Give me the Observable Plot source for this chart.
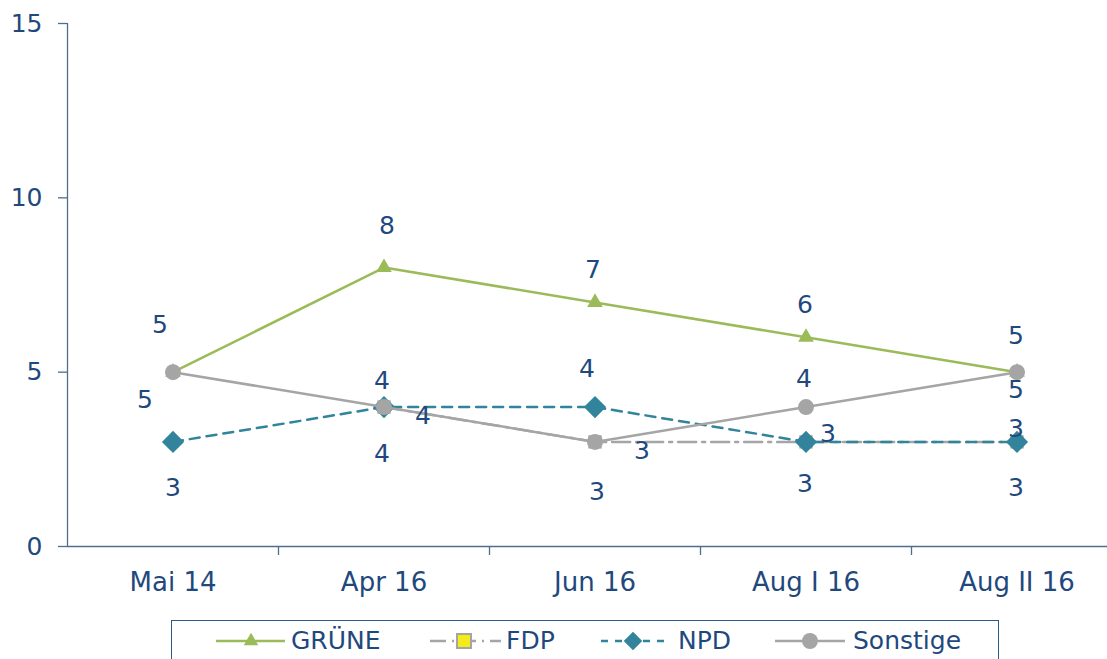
<!DOCTYPE html>
<html>
<head>
<meta charset="utf-8">
<script src="https://cdn.jsdelivr.net/npm/d3@7"></script>
<script src="https://cdn.jsdelivr.net/npm/@observablehq/plot@0.6"></script>
<style>
  html, body { margin: 0; padding: 0; background: #fff; overflow: hidden; }
  body { font-family: "DejaVu Sans", Verdana, sans-serif; position: relative; width: 1107px; height: 659px; }
  #chart { position: absolute; left: 0; top: 0; }
  #legend { position: absolute; left: 171px; top: 620px; width: 828px; height: 60px;
            border: 1.5px solid #2E5A87; box-sizing: border-box; }
  .lg { position: absolute; top: 0; height: 40px; }
  .lt { position: absolute; top: 4px; font-size: 25px; line-height: 32px; color: #1F497D; white-space: nowrap; }
</style>
</head>
<body>
<div id="chart"></div>
<div id="legend"></div>
<script>
// ---- data ----
const categories = ["Mai 14", "Apr 16", "Jun 16", "Aug I 16", "Aug II 16"];
const gruene   = [5, 8, 7, 6, 5];
const fdp      = [null, 4, 3, 3, 3];
const npd      = [3, 4, 4, 3, 3];
const sonstige = [5, 4, 3, 4, 5];
const yTicks = [0, 5, 10, 15];
const seriesNames = ["GRÜNE", "FDP", "NPD", "Sonstige"];

// ---- styling / layout ----
const textColor = "#1F497D";
const axisColor = "#4F6E8E";
const styles = {
  "GRÜNE":   {values: gruene,   color: "#9BBB59", dash: null,            symbol: "triangle2", r: 7.5, fill: "#9BBB59"},
  "FDP":     {values: fdp,      color: "#A5A5A5", dash: "18,6,3,6",      symbol: "square2",   r: 8.5, fill: "#A5A5A5"},
  "NPD":     {values: npd,      color: "#31849B", dash: "10,7",          symbol: "diamond2",  r: 10,  fill: "#31849B"},
  "Sonstige":{values: sonstige, color: "#A5A5A5", dash: null,            symbol: "circle",    r: 8,   fill: "#A5A5A5"}
};
const labelOffsets = {
  "GRÜNE":   [[-13,-47],[3,-42],[-2,-32],[-1,-32],[-1,-36]],
  "FDP":     [null,[39,9],[47,9],[22,-8],[-1,-13]],
  "NPD":     [[0,46],[-2,47],[-8,-38],[-1,42],[-1,46]],
  "Sonstige":[[-28,28],[-2,-26],[2,50],[-2,-28],[-1,18]]
};

const marks = [];
// axes
marks.push(Plot.ruleY([0], {x1: -0.5, x2: 4.5, stroke: axisColor, strokeWidth: 1.3}));
marks.push(Plot.ruleX([-0.5], {y1: 0, y2: 15, stroke: axisColor, strokeWidth: 1.3}));
marks.push(Plot.axisY({ticks: yTicks, tickSize: 9, tickPadding: 16, stroke: axisColor, color: textColor,
  fontSize: 25, tickFormat: d => String(d), strokeWidth: 1.3, label: null}));
marks.push(Plot.axisX({ticks: [0.5, 1.5, 2.5, 3.5], tickSize: 9, tickFormat: () => "", stroke: axisColor,
  strokeWidth: 1.3, label: null}));
marks.push(Plot.axisX({ticks: [0, 1, 2, 3, 4], tickSize: 0, tickPadding: 26, tickFormat: i => categories[i],
  fontSize: 26, color: textColor, label: null}));

// series
for (const name of seriesNames) {
  const s = styles[name];
  const pts = s.values.map((v, i) => ({i, v}));
  marks.push(Plot.line(pts, {x: "i", y: "v", stroke: s.color, strokeWidth: 2.5,
    strokeDasharray: s.dash || undefined, curve: "linear"}));
  marks.push(Plot.dot(pts.filter(d => d.v != null), {x: "i", y: "v", symbol: s.symbol, r: s.r,
    fill: s.fill, stroke: "none"}));
}
// data labels
for (const name of seriesNames) {
  const s = styles[name];
  s.values.forEach((v, i) => {
    const off = labelOffsets[name][i];
    if (v == null || !off) return;
    marks.push(Plot.text([{i, v}], {x: "i", y: "v", text: d => String(d.v), dx: off[0], dy: off[1],
      fill: textColor, fontSize: 25}));
  });
}

const chart = Plot.plot({
  width: 1107,
  height: 612,
  marginLeft: 67,
  marginRight: 0,
  marginTop: 23,
  marginBottom: 66,
  style: {fontFamily: "'DejaVu Sans', Verdana, sans-serif", background: "#fff", overflow: "hidden"},
  x: {type: "linear", domain: [-0.5, 4.5], range: [67, 1122], label: null},
  y: {domain: [0, 15], label: null},
  marks
});
document.getElementById("chart").appendChild(chart);

// ---- legend ----
const legend = document.getElementById("legend");
const legendLayout = {
  "GRÜNE":   {x0: 215, x1: 284, mark: 250, text: 290},
  "FDP":     {x0: 429, x1: 500, mark: 463, text: 505},
  "NPD":     {x0: 600, x1: 663, mark: 632, text: 677},
  "Sonstige":{x0: 774, x1: 844, mark: 809, text: 852}
};
const ns = "http://www.w3.org/2000/svg";
const symPaths = {
  triangle2: d3.symbol(d3.symbolTriangle2, 150)(),
  square2: null,
  diamond2: d3.symbol(d3.symbolDiamond2, 220)(),
  circle: d3.symbol(d3.symbolCircle, 200)()
};
for (const name of seriesNames) {
  const s = styles[name];
  const L = legendLayout[name];
  const left = L.x0 - 171;
  const w = L.x1 - L.x0;
  const svg = document.createElementNS(ns, "svg");
  svg.setAttribute("width", w); svg.setAttribute("height", 40);
  svg.setAttribute("class", "lg");
  svg.style.left = left + "px";
  const line = document.createElementNS(ns, "line");
  line.setAttribute("x1", 0); line.setAttribute("x2", w);
  line.setAttribute("y1", 20); line.setAttribute("y2", 20);
  line.setAttribute("stroke", s.color); line.setAttribute("stroke-width", 2.5);
  if (name === "NPD") line.setAttribute("stroke-dasharray", "7,7");
  if (name === "FDP") line.setAttribute("stroke-dasharray", "16,6,2,6");
  svg.appendChild(line);
  const cx = L.mark - L.x0;
  if (name === "FDP") {
    const r = document.createElementNS(ns, "rect");
    r.setAttribute("x", cx - 7); r.setAttribute("y", 13); r.setAttribute("width", 14); r.setAttribute("height", 14);
    r.setAttribute("fill", "#F5EB1A"); r.setAttribute("stroke", "#A5A5A5"); r.setAttribute("stroke-width", 2);
    svg.appendChild(r);
  } else {
    const p = document.createElementNS(ns, "path");
    p.setAttribute("d", symPaths[s.symbol]);
    p.setAttribute("transform", `translate(${cx},20)`);
    p.setAttribute("fill", s.fill);
    svg.appendChild(p);
  }
  legend.appendChild(svg);
  const t = document.createElement("div");
  t.className = "lt";
  t.style.left = (L.text - 171) + "px";
  t.textContent = name;
  legend.appendChild(t);
}
</script>
</body>
</html>
